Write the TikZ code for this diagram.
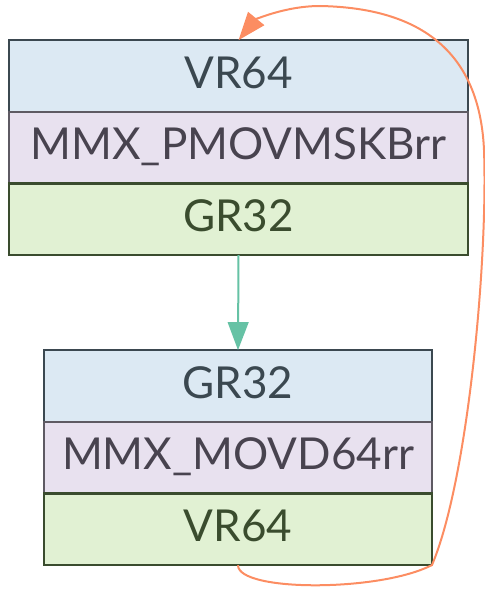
\documentclass[tikz,border=0pt]{standalone}
\usepackage{fontspec}
\setmainfont{Lato}
\usepackage{tikz}
\usetikzlibrary{positioning}
\usetikzlibrary{arrows.meta}

\definecolor{inFill}{HTML}{DCE9F3}
\definecolor{inLine}{HTML}{3B4850}
\definecolor{opFill}{HTML}{E8E1EF}
\definecolor{opLine}{HTML}{5E5A63}
\definecolor{opText}{HTML}{48434F}
\definecolor{outFill}{HTML}{E1F1D3}
\definecolor{outLine}{HTML}{3A4C2E}
\definecolor{edgeGreen}{HTML}{66C2A5}
\definecolor{edgeOrange}{HTML}{FC8D62}

\tikzset{
  row/.style={draw, line width=1.6pt, inner sep=0pt, outer sep=0pt,
    minimum height=53.75pt, text height=24pt, text depth=6pt,
    font=\fontsize{33}{40}\selectfont},
  inrow/.style={row, fill=inFill, draw=inLine, text=inLine},
  oprow/.style={row, fill=opFill, draw=opLine, text=opText},
  outrow/.style={row, fill=outFill, draw=outLine, text=outLine},
  wide/.style={minimum width=344.25pt},
  narrow/.style={minimum width=291pt},
  flow/.style={line width=1.5pt, -{Triangle[length=21pt,width=15.5pt]}}
}

\begin{document}
\begin{tikzpicture}[x=0.75pt,y=0.75pt,yscale=-1,xscale=1]
\useasboundingbox (0,0) rectangle (485,596);
% first instruction
\node [inrow, wide] (pmovIn) at (238.5,76) {VR64};
\node [oprow, wide, below=0pt of pmovIn] (pmovOp) {MMX\_PMOVMSKBrr};
\node [outrow, wide, below=0pt of pmovOp] (pmovOut) {GR32};
% second instruction
\node [inrow, narrow] (movdIn) at (238,386) {GR32};
\node [oprow, narrow, below=0pt of movdIn] (movdOp) {MMX\_MOVD64rr};
\node [outrow, narrow, below=0pt of movdOp] (movdOut) {VR64};
% edges
\draw [flow, color=edgeGreen] (pmovOut.south) -- (movdIn.north);
\draw [flow, color=edgeOrange] (movdOut.south)
  .. controls (238,592) and (380,592) .. (432,565)
  .. controls (468,480) and (488,260) .. (484,150)
  .. controls (480,60) and (430,8) .. (320,6)
  .. controls (285,6) and (255,20) .. (pmovIn.north);
\end{tikzpicture}
\end{document}
